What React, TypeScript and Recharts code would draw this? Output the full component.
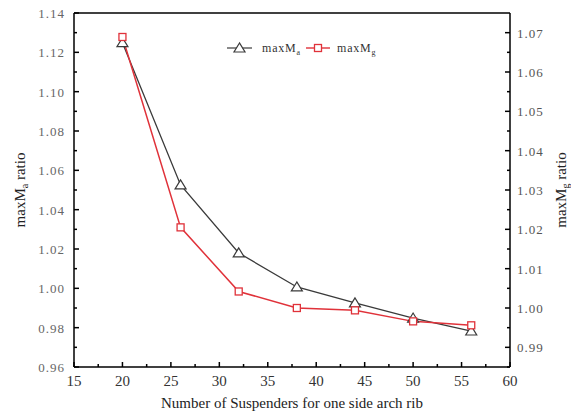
import React from 'react';
import { LineChart, Line, XAxis, YAxis, Legend, ReferenceLine } from 'recharts';

const suspenders = [20, 26, 32, 38, 44, 50, 56];
const maxMaRatio = [1.1249, 1.0526, 1.018, 1.0007, 0.9926, 0.9849, 0.9783];
const maxMgRatio = [1.0689, 1.0205, 1.0042, 1.0, 0.9994, 0.9966, 0.9956];

const xMajorTicks = [15, 20, 25, 30, 35, 40, 45, 50, 55, 60];
const xMinorTicks = [17.5, 22.5, 27.5, 32.5, 37.5, 42.5, 47.5, 52.5, 57.5];
const leftMajorTicks = [0.96, 0.98, 1.0, 1.02, 1.04, 1.06, 1.08, 1.1, 1.12, 1.14];
const leftMinorTicks = [0.97, 0.99, 1.01, 1.03, 1.05, 1.07, 1.09, 1.11, 1.13];
const rightMajorTicks = [0.99, 1.0, 1.01, 1.02, 1.03, 1.04, 1.05, 1.06, 1.07];
const rightMinorTicks = [0.985, 0.995, 1.005, 1.015, 1.025, 1.035, 1.045, 1.055, 1.065];

const data = suspenders.map((n, i) => ({ n, ma: maxMaRatio[i], mg: maxMgRatio[i] }));

const FONT = '"Liberation Serif", "DejaVu Serif", serif';
const BLACK_LINE = '#3a3a3a';
const RED_LINE = '#e0323a';

const isIn = (arr: number[], v: number) => arr.some((m) => Math.abs(m - v) < 1e-9);

const makeTick = (side: 'left' | 'right' | 'bottom', majors: number[], fmt: (v: number) => string) => (props: any) => {
  const { x, y, payload } = props;
  const v = payload.value;
  const major = isIn(majors, v);
  const len = major ? 5 : 3;
  if (side === 'left') {
    return (
      <g>
        <line x1={x} x2={x + len} y1={y} y2={y} stroke="#000" strokeWidth={1.5} />
        {major && (
          <text x={x - 9} y={y + 5} textAnchor="end" fontFamily={FONT} fontSize={13} fill="#666" letterSpacing={1}>
            {fmt(v)}
          </text>
        )}
      </g>
    );
  }
  if (side === 'right') {
    return (
      <g>
        <line x1={x} x2={x - len} y1={y} y2={y} stroke="#000" strokeWidth={1.5} />
        {major && (
          <text x={x + 7} y={y + 5} textAnchor="start" fontFamily={FONT} fontSize={13} fill="#555" letterSpacing={1}>
            {fmt(v)}
          </text>
        )}
      </g>
    );
  }
  return (
    <g>
      <line x1={x} x2={x} y1={y} y2={y - len} stroke="#000" strokeWidth={1.5} />
      {major && (
        <text x={x} y={y + 19} textAnchor="middle" fontFamily={FONT} fontSize={15} fill="#333">
          {fmt(v)}
        </text>
      )}
    </g>
  );
};

const Triangle = (props: any) => {
  const { cx, cy } = props;
  if (cx == null || cy == null) return null;
  return (
    <polygon
      points={`${cx},${cy - 5} ${cx - 5.5},${cy + 4} ${cx + 5.5},${cy + 4}`}
      fill="#fff"
      stroke={BLACK_LINE}
      strokeWidth={1.2}
    />
  );
};

const Square = (props: any) => {
  const { cx, cy } = props;
  if (cx == null || cy == null) return null;
  return <rect x={cx - 3.5} y={cy - 3.5} width={7} height={7} fill="#fff" stroke={RED_LINE} strokeWidth={1.3} />;
};

const AxisTitle = (side: 'left' | 'right', sub: string) => (props: any) => {
  const vb = props.viewBox || {};
  const cx = side === 'left' ? vb.x + 6 : vb.x + vb.width + 1;
  const cy = vb.y + vb.height / 2;
  return (
    <text
      x={cx}
      y={cy}
      transform={`rotate(-90, ${cx}, ${cy})`}
      textAnchor="middle"
      fontFamily={FONT}
      fontSize={15}
      fill="#222"
      dominantBaseline="central"
    >
      maxM
      <tspan fontSize={10} dy={4}>
        {sub}
      </tspan>
      <tspan dy={-4}> ratio</tspan>
    </text>
  );
};

const LegendContent = () => (
  <svg width={170} height={20} style={{ display: 'block' }}>
    <line x1={7} x2={32} y1={10} y2={10} stroke={BLACK_LINE} strokeWidth={1.2} />
    <polygon points="19.5,5 14,14 25,14" fill="#fff" stroke={BLACK_LINE} strokeWidth={1.2} />
    <text x={42} y={14} fontFamily={FONT} fontSize={12} fill="#333" letterSpacing={0.8}>
      maxM<tspan fontSize={8} dy={3}>a</tspan>
    </text>
    <line x1={86} x2={110} y1={10} y2={10} stroke={RED_LINE} strokeWidth={1.4} />
    <rect x={94.5} y={6.5} width={7} height={7} fill="#fff" stroke={RED_LINE} strokeWidth={1.3} />
    <text x={117} y={14} fontFamily={FONT} fontSize={12} fill="#333" letterSpacing={0.8}>
      maxM<tspan fontSize={8} dy={3}>g</tspan>
    </text>
  </svg>
);

export default function App() {
  return (
    <div style={{ position: 'absolute', left: 0, top: 0, width: 571, height: 420, background: '#fff' }}>
      <LineChart width={571} height={420} data={data} margin={{ top: 13, right: 11, bottom: 8, left: 14 }}>
        <XAxis
          dataKey="n"
          type="number"
          domain={[15, 60]}
          ticks={[...xMajorTicks, ...xMinorTicks].sort((a, b) => a - b)}
          interval={0}
          tickSize={0}
          tickMargin={0}
          tickLine={false}
          height={45}
          axisLine={{ stroke: '#000', strokeWidth: 1.5 }}
          tick={makeTick('bottom', xMajorTicks, (v) => String(v))}
          label={{
            value: 'Number of Suspenders for one side arch rib',
            position: 'insideBottom',
            offset: 4,
            style: { fontFamily: FONT, fontSize: 15, fill: '#222' },
          }}
        />
        <YAxis
          yAxisId="left"
          orientation="left"
          type="number"
          domain={[0.96, 1.14]}
          ticks={[...leftMajorTicks, ...leftMinorTicks].sort((a, b) => a - b)}
          interval={0}
          width={60}
          tickSize={0}
          tickMargin={0}
          tickLine={false}
          allowDataOverflow
          axisLine={{ stroke: '#000', strokeWidth: 1.5 }}
          tick={makeTick('left', leftMajorTicks, (v) => v.toFixed(2))}
          label={{ content: AxisTitle('left', 'a') }}
        />
        <YAxis
          yAxisId="right"
          orientation="right"
          type="number"
          domain={[0.985, 1.075]}
          ticks={[...rightMajorTicks, ...rightMinorTicks].sort((a, b) => a - b)}
          interval={0}
          width={50}
          tickSize={0}
          tickMargin={0}
          tickLine={false}
          allowDataOverflow
          axisLine={{ stroke: '#000', strokeWidth: 1.5 }}
          tick={makeTick('right', rightMajorTicks, (v) => v.toFixed(2))}
          label={{ content: AxisTitle('right', 'g') }}
        />
        <ReferenceLine yAxisId="left" y={1.14} stroke="#000" strokeWidth={1.5} />
        <Legend
          layout="vertical"
          align="center"
          verticalAlign="middle"
          wrapperStyle={{ position: 'absolute', left: 220, top: 38, width: 170, height: 20 }}
          content={<LegendContent />}
        />
        <Line
          yAxisId="left"
          dataKey="ma"
          name="maxMa"
          stroke={BLACK_LINE}
          strokeWidth={1.3}
          dot={<Triangle />}
          isAnimationActive={false}
        />
        <Line
          yAxisId="right"
          dataKey="mg"
          name="maxMg"
          stroke={RED_LINE}
          strokeWidth={1.5}
          dot={<Square />}
          isAnimationActive={false}
        />
      </LineChart>
    </div>
  );
}
